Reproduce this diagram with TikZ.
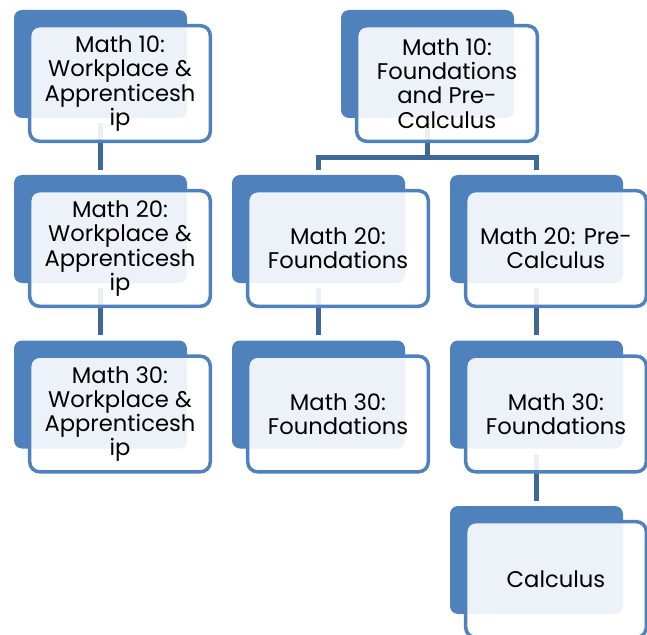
\documentclass[tikz,border=0pt]{standalone}
\usepackage{fontspec}
\setmainfont{Poppins}
\usetikzlibrary{positioning, calc}
\definecolor{officeblue}{HTML}{4F81BD}
\tikzset{
  back_box/.style={rectangle, fill=officeblue, rounded corners=6pt, minimum width=129.75pt, minimum height=81pt, inner sep=0pt},
  front_box/.style={rectangle, draw=officeblue, line width=2.6pt, fill=white, fill opacity=0.9, text opacity=1, rounded corners=7.5pt, minimum width=135.5pt, minimum height=86.75pt, inner sep=0pt, align=center, font=\fontsize{17}{18.2}\selectfont},
  connect/.style={-, line width=3.75pt, officeblue!80!black, shorten <=3.75pt, shorten >=3.75pt}
}

\begin{document}
\begin{tikzpicture}[x=0.75pt, y=-0.75pt]
  \useasboundingbox (0,0) rectangle (647,635);

  % Back panels
  \foreach \name/\px/\py in {w10/100.5/64, w20/100.5/229, w30/100.5/394.5, f10/427.5/64, f20/318.5/229, p20/536.5/229, f30/318.5/394.5, p30/536.5/394.5, cl/536.5/560} {
    \node[back_box] (\name_back) at (\px,\py) {};
  }

  % Connectors
  \draw[connect] (w10_back) -- (w20_back);
  \draw[connect] (w20_back) -- (w30_back);
  \coordinate (fork) at ($(f10_back.south)+(0,39)$);
  \draw[connect, shorten >=0pt] (f10_back) -- (fork);
  \draw[connect] (f20_back) |- (fork) -| (p20_back);
  \draw[connect] (f20_back) -- (f30_back);
  \draw[connect] (p20_back) -- (p30_back);
  \draw[connect] (p30_back) -- (cl_back);

  % Front panels
  \node[front_box] (w10) at ($(w10_back)+(19.5,19.5)$) {Math 10:\\Workplace \&\\Apprenticesh\\ip};
  \node[front_box] (w20) at ($(w20_back)+(19.5,19.5)$) {Math 20:\\Workplace \&\\Apprenticesh\\ip};
  \node[front_box] (w30) at ($(w30_back)+(19.5,19.5)$) {Math 30:\\Workplace \&\\Apprenticesh\\ip};
  \node[front_box] (f10) at ($(f10_back)+(19.5,19.5)$) {Math 10:\\Foundations\\and Pre-\\Calculus};
  \node[front_box] (f20) at ($(f20_back)+(19.5,19.5)$) {Math 20:\\Foundations};
  \node[front_box] (p20) at ($(p20_back)+(19.5,19.5)$) {Math 20: Pre-\\Calculus};
  \node[front_box] (f30) at ($(f30_back)+(19.5,19.5)$) {Math 30:\\Foundations};
  \node[front_box] (p30) at ($(p30_back)+(19.5,19.5)$) {Math 30:\\Foundations};
  \node[front_box] (cl) at ($(cl_back)+(19.5,19.5)$) {Calculus};
\end{tikzpicture}
\end{document}
